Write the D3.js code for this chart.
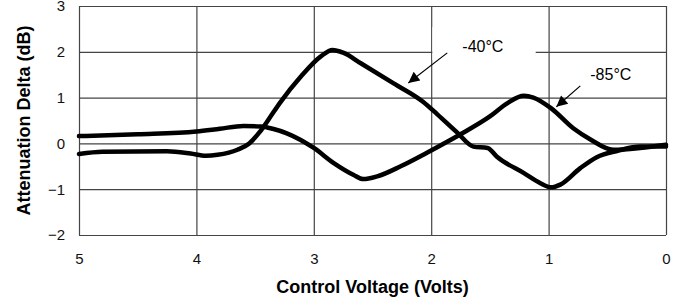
<!DOCTYPE html>
<html>
<head>
<meta charset="utf-8">
<script src="https://cdn.jsdelivr.net/npm/d3@7"></script>
<style>
  body { margin: 0; background: #fff; }
  svg { display: block; font-family: "Liberation Sans", Arial, sans-serif; }
</style>
</head>
<body>
<div id="mainDiv"></div>
<script>
'use strict';

// -40°C curve: [control voltage, attenuation delta]
var minus40 = [
  [5.0, -0.23], [4.8, -0.18], [4.25, -0.17], [4.05, -0.22], [3.92, -0.27],
  [3.82, -0.25], [3.65, -0.14], [3.55, 0.0], [3.46, 0.25], [3.37, 0.58],
  [3.29, 0.88], [3.11, 1.46], [2.94, 1.9], [2.84, 2.04], [2.75, 1.98],
  [2.6, 1.75], [2.32, 1.31], [2.07, 0.91], [1.95, 0.64], [1.78, 0.24],
  [1.64, -0.07], [1.52, -0.1], [1.44, -0.29], [1.21, -0.65], [1.07, -0.87],
  [0.98, -0.96], [0.9, -0.9], [0.73, -0.54], [0.59, -0.3], [0.41, -0.16],
  [0.22, -0.07], [0.0, -0.07]
];

// -85°C curve
var minus85 = [
  [5.0, 0.16], [4.5, 0.2], [4.0, 0.26], [3.8, 0.32], [3.6, 0.38],
  [3.45, 0.37], [3.35, 0.32], [3.23, 0.22], [3.0, -0.1], [2.83, -0.43],
  [2.66, -0.69], [2.58, -0.78], [2.46, -0.72], [2.26, -0.5], [2.04, -0.21],
  [1.86, 0.04], [1.75, 0.2], [1.5, 0.59], [1.35, 0.88], [1.21, 1.04],
  [1.13, 1.0], [0.98, 0.77], [0.79, 0.33], [0.64, 0.08], [0.45, -0.14],
  [0.22, -0.1], [0.0, -0.03]
];

var xTicks = [5, 4, 3, 2, 1, 0];
var yTicks = [-2, -1, 0, 1, 2, 3];

// labels: text, text anchor point, arrow tail, arrow tip (data units)
var labels = [
  { text: "-40°C", at: [1.735, 2.0], from: [1.863, 1.976], to: [2.195, 1.32] },
  { text: "-85°C", at: [0.645, 1.39], from: [0.73, 1.255], to: [0.934, 0.80] }
];

var myApp = {};

myApp.run = function ()
{
    var W = 680, H = 299;
    var m = { left: 79, right: 14, top: 6, bottom: 64 };
    var w = W - m.left - m.right;
    var h = H - m.top - m.bottom;

    var svg = d3.select("#mainDiv").append("svg")
        .attr("width", W)
        .attr("height", H);

    svg.append("defs").append("marker")
        .attr("id", "arrow")
        .attr("viewBox", "0 0 10 10")
        .attr("refX", 10).attr("refY", 5)
        .attr("markerWidth", 15).attr("markerHeight", 11)
        .attr("markerUnits", "userSpaceOnUse")
        .attr("orient", "auto")
        .append("path")
            .attr("d", "M0,0 L10,5 L0,10 Z")
            .attr("fill", "#000");

    var g = svg.append("g").attr("transform", "translate(" + m.left + "," + m.top + ")");

    var x = d3.scaleLinear().domain([5, 0]).range([0, w]);
    var y = d3.scaleLinear().domain([-2, 3]).range([h, 0]);

    // grid + tick labels
    var yAxis = g.append("g")
        .call(d3.axisLeft(y).tickValues(yTicks).tickSize(-w).tickPadding(14).tickFormat(d3.format("d")));
    var xAxis = g.append("g")
        .attr("transform", "translate(0," + h + ")")
        .call(d3.axisBottom(x).tickValues(xTicks).tickSize(-h).tickPadding(18).tickFormat(d3.format("d")));

    [yAxis, xAxis].forEach(function (a)
    {
        a.select(".domain").remove();
        a.selectAll("line").attr("stroke", "#444").attr("stroke-width", 1.2);
        a.selectAll("text")
            .attr("font-size", "15px")
            .attr("font-family", "Liberation Sans, Arial, sans-serif")
            .attr("fill", "#111");
    });

    // white box behind the -40°C label
    g.append("rect")
        .attr("x", x(1.99))
        .attr("y", y(2.54))
        .attr("width", x(1.11) - x(1.99))
        .attr("height", y(1.82) - y(2.54))
        .attr("fill", "#fff");

    var line = d3.line()
        .x(function (d) { return x(d[0]); })
        .y(function (d) { return y(d[1]); })
        .curve(d3.curveMonotoneX);

    [minus40, minus85].forEach(function (s)
    {
        g.append("path")
            .datum(s)
            .attr("d", line)
            .attr("fill", "none")
            .attr("stroke", "#000")
            .attr("stroke-width", 4.5)
            .attr("stroke-linejoin", "round")
            .attr("stroke-linecap", "round");
    });

    labels.forEach(function (l)
    {
        g.append("line")
            .attr("x1", x(l.from[0])).attr("y1", y(l.from[1]))
            .attr("x2", x(l.to[0])).attr("y2", y(l.to[1]))
            .attr("stroke", "#000")
            .attr("stroke-width", 1.2)
            .attr("marker-end", "url(#arrow)");
        g.append("text")
            .attr("x", x(l.at[0]))
            .attr("y", y(l.at[1]))
            .attr("font-size", "16px")
            .attr("fill", "#000")
            .text(l.text);
    });

    svg.append("text")
        .attr("x", m.left + w / 2)
        .attr("y", 293)
        .attr("text-anchor", "middle")
        .attr("font-size", "18px")
        .attr("font-weight", "bold")
        .text("Control Voltage (Volts)");

    svg.append("text")
        .attr("transform", "translate(30," + (m.top + h / 2) + ") rotate(-90)")
        .attr("text-anchor", "middle")
        .attr("font-size", "18px")
        .attr("font-weight", "bold")
        .text("Attenuation Delta (dB)");
};

window.onload = myApp.run;
</script>
</body>
</html>
